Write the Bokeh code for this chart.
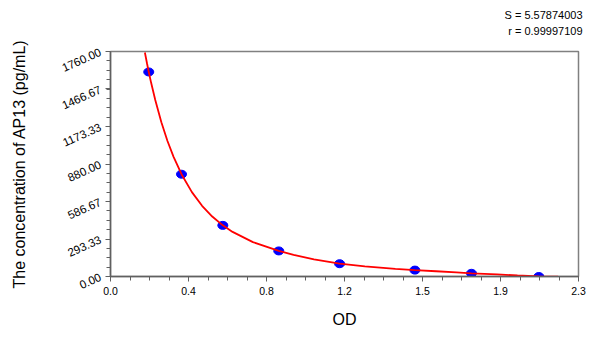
import math
from bokeh.plotting import figure
from bokeh.models import FixedTicker, Range1d, Title
from bokeh.embed import file_html
from bokeh.resources import INLINE

# standard points (OD vs concentration)
od = [0.188, 0.349, 0.552, 0.827, 1.126, 1.496, 1.774, 2.105]
conc = [1600, 800, 400, 200, 100, 50, 25, 0]

# fitted curve
curve_x = [0.169, 0.18, 0.188, 0.2, 0.22, 0.25, 0.28, 0.31, 0.349, 0.4, 0.45, 0.5,
           0.552, 0.6, 0.7, 0.827, 0.9, 1.0, 1.126, 1.25, 1.4, 1.496, 1.6, 1.7,
           1.774, 1.9, 2.0, 2.105, 2.2, 2.3]
curve_y = [1752, 1662, 1600, 1513, 1380, 1207, 1060, 936, 800, 660, 553, 469,
           400, 349, 269, 200, 169, 134, 100, 79, 60, 50, 41, 32,
           25, 16, 8, 0, -2, -4]

x_ticks = [0, 2.3 / 6, 2 * 2.3 / 6, 3 * 2.3 / 6, 4 * 2.3 / 6, 5 * 2.3 / 6, 2.3]
x_labels = ["0.0", "0.4", "0.8", "1.2", "1.5", "1.9", "2.3"]
y_ticks = [0, 293.333, 586.667, 880, 1173.333, 1466.667, 1760]
y_labels = ["0.00", "293.33", "586.67", "880.00", "1173.33", "1466.67", "1760.00"]

stats = ["S = 5.57874003", "r = 0.99997109"]

FONT = "Liberation Sans"

p = figure(width=600, height=337, output_backend="svg", toolbar_location=None,
           x_range=Range1d(0, 2.3), y_range=Range1d(0, 1760),
           min_border_left=110, min_border_right=22, min_border_top=51,
           min_border_bottom=61)
p.grid.visible = False
p.outline_line_color = "#808080"
p.outline_line_width = 1.5
p.background_fill_color = "white"
p.border_fill_color = "white"

p.xaxis.ticker = FixedTicker(ticks=x_ticks, minor_ticks=[i * 2.3 / 24 for i in range(25)])
p.xaxis.major_label_overrides = {t: l for t, l in zip(x_ticks, x_labels)}
p.yaxis.ticker = FixedTicker(ticks=y_ticks, minor_ticks=[i * 1760 / 24 for i in range(25)])
p.yaxis.major_label_overrides = {t: l for t, l in zip(y_ticks, y_labels)}
p.yaxis.major_label_orientation = 0.42

for ax in (p.xaxis[0], p.yaxis[0]):
    ax.axis_line_color = "#606060"
    ax.axis_line_width = 1.5
    ax.major_tick_line_color = "#606060"
    ax.minor_tick_line_color = "#606060"
    ax.major_tick_in = 0
    ax.minor_tick_in = 0
    ax.major_tick_out = 5
    ax.minor_tick_out = 4
    ax.major_label_text_font = FONT
    ax.major_label_text_font_size = "10.5px"
    ax.major_label_text_color = "black"
    ax.axis_label_text_font = FONT
    ax.axis_label_text_font_style = "normal"
    ax.axis_label_text_font_size = "16px"
    ax.axis_label_text_color = "black"

p.yaxis.major_label_text_font_size = "11.5px"
p.xaxis.axis_label = "OD"
p.xaxis.axis_label_standoff = 13
p.yaxis.axis_label = "The concentration of AP13 (pg/mL)"
p.yaxis.axis_label_standoff = 28

p.ellipse(x=od, y=conc, width=10, height=8, width_units="screen", height_units="screen",
          fill_color="#0000ff", line_color="#0000ff")
p.line(curve_x, curve_y, line_color="#ff0000", line_width=1.8)

# empty spacer between the frame and the stats
p.add_layout(Title(text=" ", text_font_size="11px", standoff=0), "above")
# stats in the top-right corner (closest to the frame added first)
for s in reversed(stats):
    p.add_layout(Title(text=s, align="right", text_font=FONT, text_font_size="11px",
                       text_font_style="normal", text_color="black",
                       offset=-4, standoff=2), "above")

open("out.html", "w").write(file_html(p, INLINE))
